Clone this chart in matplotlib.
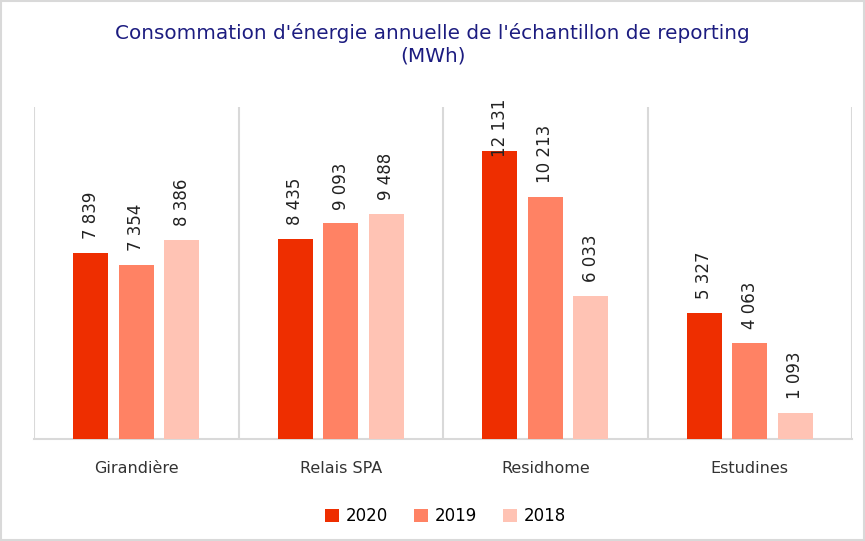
import matplotlib.pyplot as plt
import numpy as np

categories = ['Girandière', 'Relais SPA', 'Residhome', 'Estudines']
years = ['2020', '2019', '2018']
v2020 = [7839, 8435, 12131, 5327]
v2019 = [7354, 9093, 10213, 4063]
v2018 = [8386, 9488, 6033, 1093]
colors = ['#EE2E00', '#FF8264', '#FFC3B4']


def fmt(v):
    return '{:,}'.format(v).replace(',', ' ')


fig = plt.figure(figsize=(8.65, 5.41), dpi=100)
ax = fig.add_axes([0.0393, 0.1885, 0.9457, 0.6135])

x = np.arange(len(categories))
width = 0.172
step = 0.222
series = [v2020, v2019, v2018]
for i, vals in enumerate(series):
    pos = x + (i - 1) * step
    bars = ax.bar(pos, vals, width=width, color=colors[i], label=years[i], zorder=3)
    for b, v in zip(bars, vals):
        # the tallest label is pushed down so it stays inside the chart, like Excel does
        off = 10 if v < 12000 else -4
        ax.annotate(fmt(v), (b.get_x() + b.get_width() / 2, v),
                    xytext=(0, off), textcoords='offset points',
                    rotation=90, ha='center', va='bottom',
                    fontsize=12, color='#222222', zorder=4)

ax.set_xlim(-0.5, len(categories) - 0.5)
ax.set_ylim(0, 14000)
ax.set_yticks([])
ax.set_xticks(x)
ax.set_xticklabels(categories, fontsize=11.5, color='#333333')
ax.tick_params(axis='x', length=0, pad=16)
for bnd in np.arange(-0.5, len(categories), 1.0):
    ax.axvline(bnd, color='#d9d9d9', lw=1.5, zorder=1)
for s in ['top', 'right', 'left']:
    ax.spines[s].set_visible(False)
ax.spines['bottom'].set_color('#d9d9d9')
ax.spines['bottom'].set_linewidth(1.5)

fig.text(0.5, 0.918, "Consommation d'énergie annuelle de l'échantillon de reporting\n(MWh)",
         ha='center', va='center', fontsize=14.4, color='#1c1c80', linespacing=1.25)

leg = fig.legend(loc='center', bbox_to_anchor=(0.515, 0.046), ncol=3, frameon=False,
                 fontsize=12, handlelength=0.8, handleheight=0.8, handletextpad=0.4,
                 columnspacing=1.6)

fig.patches.append(plt.Rectangle((0.001, 0.001), 0.998, 0.998, transform=fig.transFigure,
                                 fill=False, edgecolor='#d9d9d9', lw=1.5))

fig.savefig('out.png', dpi=100)
